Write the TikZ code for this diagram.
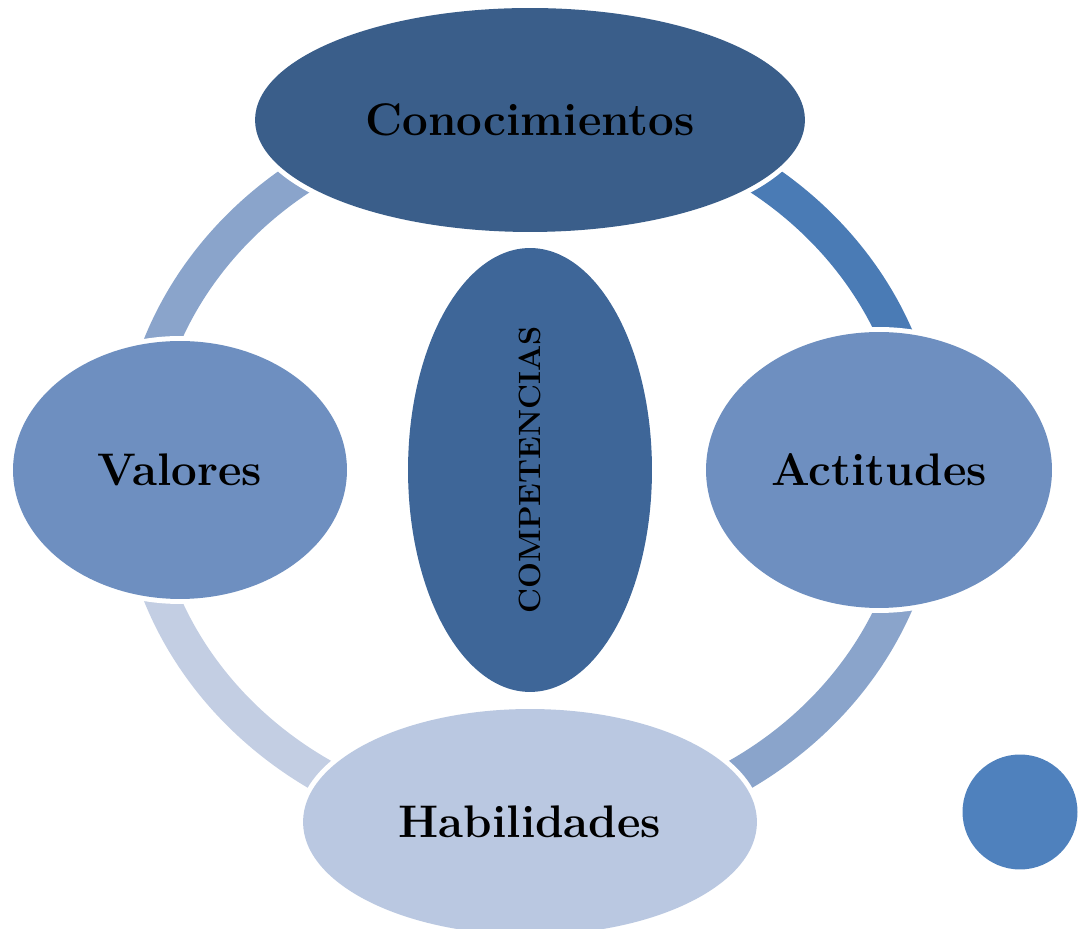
\documentclass[tikz,border=0pt]{standalone}
\usepackage{fontspec}
\usetikzlibrary{shapes.geometric}
\definecolor{darkblue}{HTML}{3A5E8A}
\definecolor{midblue}{HTML}{3E6698}
\definecolor{softblue}{HTML}{6E8FC0}
\definecolor{paleblue}{HTML}{BAC8E1}
\definecolor{dotblue}{HTML}{4F81BD}
\definecolor{arcone}{HTML}{4A7BB5}
\definecolor{arctwo}{HTML}{8AA4CB}
\definecolor{arcthree}{HTML}{C3CEE3}
\tikzset{
  bubble/.style={ellipse,inner sep=0pt,font=\fontsize{26}{30}\selectfont\bfseries,
    preaction={draw=white,line width=0.2cm}},
  ringarc/.style={line width=0.7cm}
}

\begin{document}
\begin{tikzpicture}[x=0.02cm,y=0.02cm]
	\useasboundingbox (0,0) rectangle (1082,929);
	\coordinate (center) at (530,459);

    % ring segments
	\foreach \a/\c in {90/arcone,0/arctwo,-90/arcthree,180/arctwo}
		\draw[ringarc,\c] (center) ++(\a:394 and 360) arc[start angle=\a,delta angle=-90,x radius=394,y radius=360];

    % outer bubbles
	\node[bubble,fill=darkblue,minimum width=11cm,minimum height=4.48cm] (conocimientos) at (530,809) {Conocimientos};
	\node[bubble,fill=softblue,minimum width=6.68cm,minimum height=5.16cm] (valores) at (180,459) {Valores};
	\node[bubble,fill=softblue,minimum width=6.92cm,minimum height=5.52cm] (actitudes) at (879,459) {Actitudes};
	\node[bubble,fill=paleblue,minimum width=9.08cm,minimum height=4.52cm] (habilidades) at (530,107) {Habilidades};

    % centre
	\node[ellipse,inner sep=0pt,fill=midblue,rotate=90,minimum width=8.88cm,minimum height=4.88cm,
		font=\fontsize{17.5}{20}\selectfont\bfseries] (competencias) at (center) {COMPETENCIAS};

	\node[circle,fill=dotblue,inner sep=0pt,minimum size=2.3cm] (dot) at (1020,117) {};
\end{tikzpicture}
\end{document}
